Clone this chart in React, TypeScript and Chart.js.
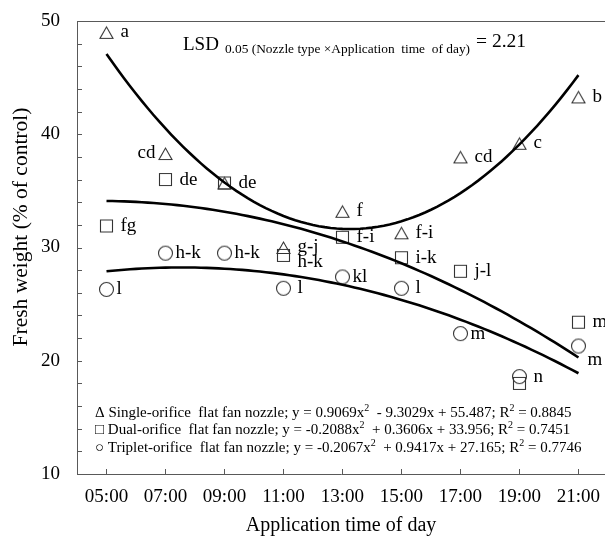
import React, { useEffect, useRef } from 'react';
import { Chart, registerables } from 'chart.js';

Chart.register(...registerables);

// ---- data ----
const CATEGORIES = ['05:00', '07:00', '09:00', '11:00', '13:00', '15:00', '17:00', '19:00', '21:00'];

const SINGLE = [49.0, 38.3, 35.7, 30.0, 33.2, 31.3, 38.0, 39.2, 43.3];
const DUAL = [31.9, 36.0, 35.7, 29.3, 30.9, 29.1, 27.9, 18.0, 23.4];
const TRIPLET = [26.3, 29.5, 29.5, 26.4, 27.4, 26.4, 22.4, 18.6, 21.3];

const SINGLE_LETTERS = ['a', 'cd', 'de', 'g-j', 'f', 'f-i', 'cd', 'c', 'b'];
const DUAL_LETTERS = ['fg', 'de', '', 'h-k', 'f-i', 'i-k', 'j-l', '', 'm'];
const TRIPLET_LETTERS = ['l', 'h-k', 'h-k', 'l', 'kl', 'l', 'm', 'n', 'm'];

// label placement keywords (style only)
const SINGLE_POS = ['r', 'l', 'r', 'r', 'r', 'r', 'r', 'r', 'r'];
const DUAL_POS = ['r', 'r', 'r', 'rd', 'r', 'r', 'r', 'r', 'r'];
const TRIPLET_POS = ['c', 'c', 'c', 'r', 'c', 'r', 'c', 'r', 'rb'];

// quadratic fits shown in the chart (x = 1..9 for 05:00..21:00)
const SINGLE_FIT = [0.9069, -9.3029, 55.487];
const DUAL_FIT = [-0.2088, 0.3606, 33.956];
const TRIPLET_FIT = [-0.2067, 0.9417, 27.165];
const R2 = [0.8845, 0.7451, 0.7746];
const SERIES_NAMES = ['Single-orifice  flat fan nozzle', 'Dual-orifice  flat fan nozzle', 'Triplet-orifice  flat fan nozzle'];
const SERIES_SYMBOLS = ['\u0394', '\u25A1', '\u25CB'];

const Y_MIN = 10;
const Y_MAX = 50;
const Y_MAJOR = 10;
const Y_MINOR = 2;
const LSD_VALUE = 2.21;

const FONT = "'Liberation Serif', 'Times New Roman', 'DejaVu Serif', serif";
const AXIS_COLOR = '#595959';
const MARK_COLOR = '#333333';

function makeMarker(kind: string): HTMLCanvasElement {
  const c = document.createElement('canvas');
  c.width = 17;
  c.height = 17;
  const g = c.getContext('2d')!;
  g.strokeStyle = MARK_COLOR;
  g.lineWidth = 1.1;
  g.beginPath();
  if (kind === 'triangle') {
    g.moveTo(2, 14.5);
    g.lineTo(15, 14.5);
    g.lineTo(8.5, 3);
    g.closePath();
  } else if (kind === 'square') {
    g.rect(2.5, 2.5, 12, 12);
  } else {
    g.arc(8.5, 8.5, 7, 0, Math.PI * 2);
  }
  g.stroke();
  return c;
}

function fmtSigned(v: number, first: boolean): string {
  if (first) return String(v);
  return (v < 0 ? ' - ' : ' + ') + String(Math.abs(v));
}

export default function App() {
  const ref = useRef<HTMLCanvasElement>(null);

  useEffect(() => {
    document.body.style.margin = '0';
    const canvas = ref.current!;
    const hours = CATEGORIES.map((c) => parseInt(c, 10));

    const curve = (c: number[]) => {
      const pts: { x: number; y: number }[] = [];
      for (let i = 10; i <= 90; i++) {
        const t = i / 10;
        pts.push({ x: hours[0] + (t - 1) * 2, y: c[0] * t * t + c[1] * t + c[2] });
      }
      return pts;
    };

    const tri = makeMarker('triangle');
    const sq = makeMarker('square');
    const ci = makeMarker('circle');

    const lineDs = (c: number[]) => ({
      type: 'line' as const,
      data: curve(c),
      borderColor: '#000',
      borderWidth: 2.6,
      pointRadius: 0,
      tension: 0,
      fill: false,
    });
    const pointDs = (vals: number[], style: HTMLCanvasElement) => ({
      type: 'scatter' as const,
      data: vals.map((v, i) => ({ x: hours[i], y: v })),
      pointStyle: style,
      pointRadius: 8,
      showLine: false,
    });

    const series = [
      { vals: SINGLE, letters: SINGLE_LETTERS, pos: SINGLE_POS, dx: 14 },
      { vals: DUAL, letters: DUAL_LETTERS, pos: DUAL_POS, dx: 14 },
      { vals: TRIPLET, letters: TRIPLET_LETTERS, pos: TRIPLET_POS, dx: 14 },
    ];

    const textPlugin = {
      id: 'textPlugin',
      afterDatasetsDraw(chart: any) {
        const { ctx, chartArea: a, scales } = chart;
        const xs = scales.x;
        const ys = scales.y;
        ctx.save();
        // top border
        ctx.strokeStyle = AXIS_COLOR;
        ctx.lineWidth = 1;
        ctx.beginPath();
        ctx.moveTo(a.left, Math.round(a.top) + 0.5);
        ctx.lineTo(a.right, Math.round(a.top) + 0.5);
        ctx.stroke();
        // inward y ticks
        ctx.beginPath();
        for (let v = Y_MIN; v <= Y_MAX; v += Y_MINOR) {
          const py = Math.round(ys.getPixelForValue(v)) + 0.5;
          ctx.moveTo(a.left, py);
          ctx.lineTo(a.left + 5, py);
        }
        // inward x ticks
        for (const h of hours) {
          const px = Math.round(xs.getPixelForValue(h)) + 0.5;
          ctx.moveTo(px, a.bottom);
          ctx.lineTo(px, a.bottom - 5);
        }
        ctx.stroke();

        // point letters
        ctx.fillStyle = '#000';
        ctx.font = `19px ${FONT}`;
        ctx.textBaseline = 'middle';
        for (const s of series) {
          s.vals.forEach((v, i) => {
            const t = s.letters[i];
            if (!t) return;
            const px = xs.getPixelForValue(hours[i]);
            const py = ys.getPixelForValue(v);
            const p = s.pos[i];
            let dx = s.dx;
            let dy = 0;
            ctx.textAlign = 'left';
            if (p === 'l') {
              dx = -10;
              ctx.textAlign = 'right';
            } else if (p === 'c') {
              dx = 10;
            } else if (p === 'rd') {
              dy = 7;
            } else if (p === 'rb') {
              dx = 9;
              dy = 14;
            }
            ctx.fillText(t, px + dx, py + dy);
          });
        }

        // LSD annotation
        ctx.textAlign = 'left';
        ctx.textBaseline = 'alphabetic';
        let lx = 183;
        ctx.font = `19px ${FONT}`;
        ctx.fillText('LSD', lx, 50);
        lx += ctx.measureText('LSD').width + 6;
        ctx.font = `13.4px ${FONT}`;
        const sub = '0.05 (Nozzle type \u00D7Application  time  of day)';
        ctx.fillText(sub, lx, 53);
        lx += ctx.measureText(sub).width + 6;
        ctx.font = `19.5px ${FONT}`;
        ctx.fillText('= ' + LSD_VALUE.toFixed(2), lx, 47);

        // fit legend
        const fits = [SINGLE_FIT, DUAL_FIT, TRIPLET_FIT];
        fits.forEach((c, k) => {
          const base = 417 + k * 17.3;
          let x = 95;
          const runs: [string, boolean][] = [
            [SERIES_SYMBOLS[k] + ' ' + SERIES_NAMES[k] + '; y = ' + fmtSigned(c[0], true) + 'x', false],
            ['2', true],
            [' ' + fmtSigned(c[1], false) + 'x' + fmtSigned(c[2], false) + '; R', false],
            ['2', true],
            [' = ' + R2[k].toFixed(4), false],
          ];
          for (const [txt, sup] of runs) {
            ctx.font = sup ? `10px ${FONT}` : `15px ${FONT}`;
            ctx.fillText(txt, x, sup ? base - 6 : base);
            x += ctx.measureText(txt).width;
          }
        });

        // axis titles
        ctx.font = `20px ${FONT}`;
        ctx.textAlign = 'center';
        ctx.fillText('Application time of day', (a.left + a.right) / 2, 531);
        ctx.save();
        ctx.translate(27, 227);
        ctx.rotate(-Math.PI / 2);
        ctx.font = `21.5px ${FONT}`;
        ctx.fillText('Fresh weight (% of control)', 0, 0);
        ctx.restore();

        ctx.restore();
      },
    };

    const chart = new Chart(canvas, {
      type: 'scatter',
      data: {
        datasets: [
          lineDs(SINGLE_FIT),
          lineDs(DUAL_FIT),
          lineDs(TRIPLET_FIT),
          pointDs(SINGLE, tri),
          pointDs(DUAL, sq),
          pointDs(TRIPLET, ci),
        ] as any,
      },
      options: {
        responsive: false,
        devicePixelRatio: 1,
        animation: false,
        layout: { autoPadding: false, padding: { top: 21, left: 0, right: 0, bottom: 0 } },
        plugins: { legend: { display: false }, tooltip: { enabled: false } },
        scales: {
          x: {
            type: 'linear',
            min: 4,
            max: 21.9,
            grid: { display: false, drawTicks: false },
            border: { display: true, color: AXIS_COLOR, width: 1 },
            afterBuildTicks: (s: any) => {
              s.ticks = hours.map((h) => ({ value: h }));
            },
            afterFit: (s: any) => {
              s.height = 62;
              s.paddingLeft = 0;
              s.paddingRight = 0;
            },
            ticks: {
              autoSkip: false,
              maxRotation: 0,
              padding: 12,
              color: '#000',
              font: { family: FONT, size: 19 },
              callback: (v: any) => {
                const i = hours.indexOf(Number(v));
                return i >= 0 ? CATEGORIES[i] : '';
              },
            },
          },
          y: {
            type: 'linear',
            min: Y_MIN,
            max: Y_MAX,
            grid: { display: false, drawTicks: false },
            border: { display: true, color: AXIS_COLOR, width: 1 },
            afterFit: (s: any) => {
              s.width = 77;
              s.paddingTop = 0;
              s.paddingBottom = 0;
            },
            ticks: {
              stepSize: Y_MAJOR,
              padding: 17,
              color: '#000',
              font: { family: FONT, size: 19 },
            },
          },
        },
      },
      plugins: [textPlugin],
    });
    return () => chart.destroy();
  }, []);

  return (
    <div style={{ position: 'fixed', left: 0, top: 0 }}>
      <canvas ref={ref} width={605} height={536} style={{ display: 'block', width: 605, height: 536 }} />
    </div>
  );
}
